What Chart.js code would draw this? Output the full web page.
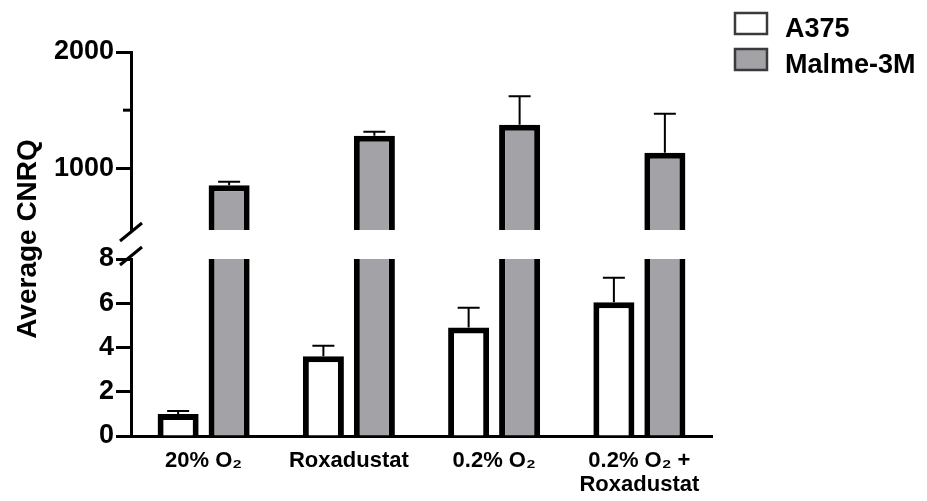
<!DOCTYPE html>
<html lang="en">
<head>
<meta charset="UTF-8">
<title>Average CNRQ</title>
<script src="https://cdn.jsdelivr.net/npm/chart.js@4"></script>
<style>
  html, body { margin: 0; padding: 0; background: #fff; }
  #wrap { position: relative; width: 927px; height: 501px; }
  #wrap canvas { position: absolute; left: 0; top: 0; }
</style>
</head>
<body>
<div id="wrap">
  <canvas id="upperChart" width="927" height="501"></canvas>
  <canvas id="lowerChart" width="927" height="501"></canvas>
</div>
<script>
// data
const categories = [['20% O₂'], ['Roxadustat'], ['0.2% O₂'], ['0.2% O₂ +', 'Roxadustat']];
const a375Values = [1.0, 3.6, 4.9, 6.05];
const a375Errors = [0.13, 0.48, 0.9, 1.1];
const malmeValues = [855, 1280, 1375, 1135];
const malmeErrors = [30, 35, 245, 335];
const upperTicks = [1000, 2000];
const upperMinorTicks = [1500];
const lowerTicks = [0, 2, 4, 6, 8];

const FONT = "'Liberation Sans', Arial, sans-serif";
Chart.defaults.font.family = FONT;
Chart.defaults.color = '#000';
Chart.defaults.animation = false;

function makeDatasets() {
  return [
    { label: 'A375', data: a375Values, errors: a375Errors,
      backgroundColor: '#ffffff', borderColor: '#000', borderWidth: 6, clip: 0 },
    { label: 'Malme-3M', data: malmeValues, errors: malmeErrors,
      backgroundColor: '#a3a3a7', borderColor: '#000', borderWidth: 6, clip: 0 }
  ];
}

// upward error bars, clipped to the plot area
const errorBars = {
  id: 'errorBars',
  afterDatasetsDraw(chart) {
    const { ctx, chartArea: a, scales: { y } } = chart;
    ctx.save();
    ctx.beginPath();
    ctx.rect(a.left, a.top, a.right - a.left, a.bottom - a.top);
    ctx.clip();
    ctx.strokeStyle = '#000';
    ctx.lineWidth = 2;
    chart.data.datasets.forEach((ds, i) => {
      chart.getDatasetMeta(i).data.forEach((bar, j) => {
        const top = y.getPixelForValue(ds.data[j] + ds.errors[j]);
        ctx.beginPath();
        ctx.moveTo(bar.x, bar.y);
        ctx.lineTo(bar.x, top);
        ctx.moveTo(bar.x - 11, top);
        ctx.lineTo(bar.x + 11, top);
        ctx.stroke();
      });
    });
    ctx.restore();
  }
};

// slash marks where the y axis is broken
const axisBreak = {
  id: 'axisBreak',
  afterDraw(chart, args, opts) {
    const { ctx, chartArea: a } = chart;
    const yc = opts.edge === 'bottom' ? a.bottom + 2 : a.top - 3;
    ctx.save();
    ctx.strokeStyle = '#000';
    ctx.lineWidth = 3;
    ctx.beginPath();
    ctx.moveTo(a.left - 11, yc + 9);
    ctx.lineTo(a.left + 11, yc - 9);
    ctx.stroke();
    ctx.restore();
  }
};

// short minor ticks, legend and the shared axis title
const decor = {
  id: 'decor',
  afterDraw(chart) {
    const { ctx, chartArea: a, scales: { y } } = chart;
    ctx.save();
    ctx.strokeStyle = '#000';
    ctx.lineWidth = 3;
    upperMinorTicks.forEach(v => {
      const py = y.getPixelForValue(v);
      ctx.beginPath();
      ctx.moveTo(a.left - 8, py);
      ctx.lineTo(a.left, py);
      ctx.stroke();
    });

    // legend
    ctx.font = 'bold 27px ' + FONT;
    ctx.textBaseline = 'alphabetic';
    ctx.textAlign = 'left';
    chart.data.datasets.forEach((ds, i) => {
      const top = 13 + i * 36;
      ctx.fillStyle = ds.backgroundColor;
      ctx.fillRect(735, top, 32, 21);
      ctx.strokeStyle = '#3a3a3a';
      ctx.lineWidth = 2.5;
      ctx.strokeRect(735, top, 32, 21);
      ctx.fillStyle = '#000';
      ctx.fillText(ds.label, 785, top + 24);
    });

    // y axis title spanning both segments
    ctx.translate(28, 239);
    ctx.rotate(-Math.PI / 2);
    ctx.font = 'bold 28px ' + FONT;
    ctx.textAlign = 'center';
    ctx.textBaseline = 'middle';
    ctx.fillStyle = '#000';
    ctx.fillText('Average CNRQ', 0, 0);
    ctx.restore();
  }
};

function yAxis(min, max, ticks) {
  return {
    min: min, max: max,
    afterFit(s) { s.width = 131; },
    afterBuildTicks(s) { s.ticks = ticks.map(v => ({ value: v })); },
    border: { color: '#000', width: 3 },
    grid: { drawOnChartArea: false, tickLength: 15, tickWidth: 3, tickColor: '#000' },
    ticks: { padding: 2, color: '#000', font: { size: 27, weight: 'bold' },
      callback: v => String(v) }
  };
}

const barLayout = { categoryPercentage: 0.702, barPercentage: 0.805 };

// upper segment: 470 - 2000
new Chart(document.getElementById('upperChart'), {
  type: 'bar',
  data: { labels: categories, datasets: makeDatasets() },
  options: {
    responsive: false,
    ...barLayout,
    layout: { padding: { top: 52, bottom: 271, left: 0, right: 215 } },
    plugins: { legend: { display: false }, tooltip: { enabled: false },
      axisBreak: { edge: 'bottom' } },
    scales: {
      x: { display: false },
      y: yAxis(470, 2000, upperTicks)
    }
  },
  plugins: [errorBars, axisBreak, decor]
});

// lower segment: 0 - 8
new Chart(document.getElementById('lowerChart'), {
  type: 'bar',
  data: { labels: categories, datasets: makeDatasets() },
  options: {
    responsive: false,
    ...barLayout,
    layout: { padding: { top: 259, bottom: 0, left: 0, right: 215 } },
    plugins: { legend: { display: false }, tooltip: { enabled: false },
      axisBreak: { edge: 'top' } },
    scales: {
      x: {
        afterFit(s) { s.height = 65; },
        border: { color: '#000', width: 3 },
        grid: { display: false, drawTicks: false },
        ticks: { padding: 13, color: '#000', maxRotation: 0, autoSkip: false,
          font: { size: 22, weight: 'bold', lineHeight: 1.1 } }
      },
      y: yAxis(0, 8, lowerTicks)
    }
  },
  plugins: [errorBars, axisBreak]
});
</script>
</body>
</html>
